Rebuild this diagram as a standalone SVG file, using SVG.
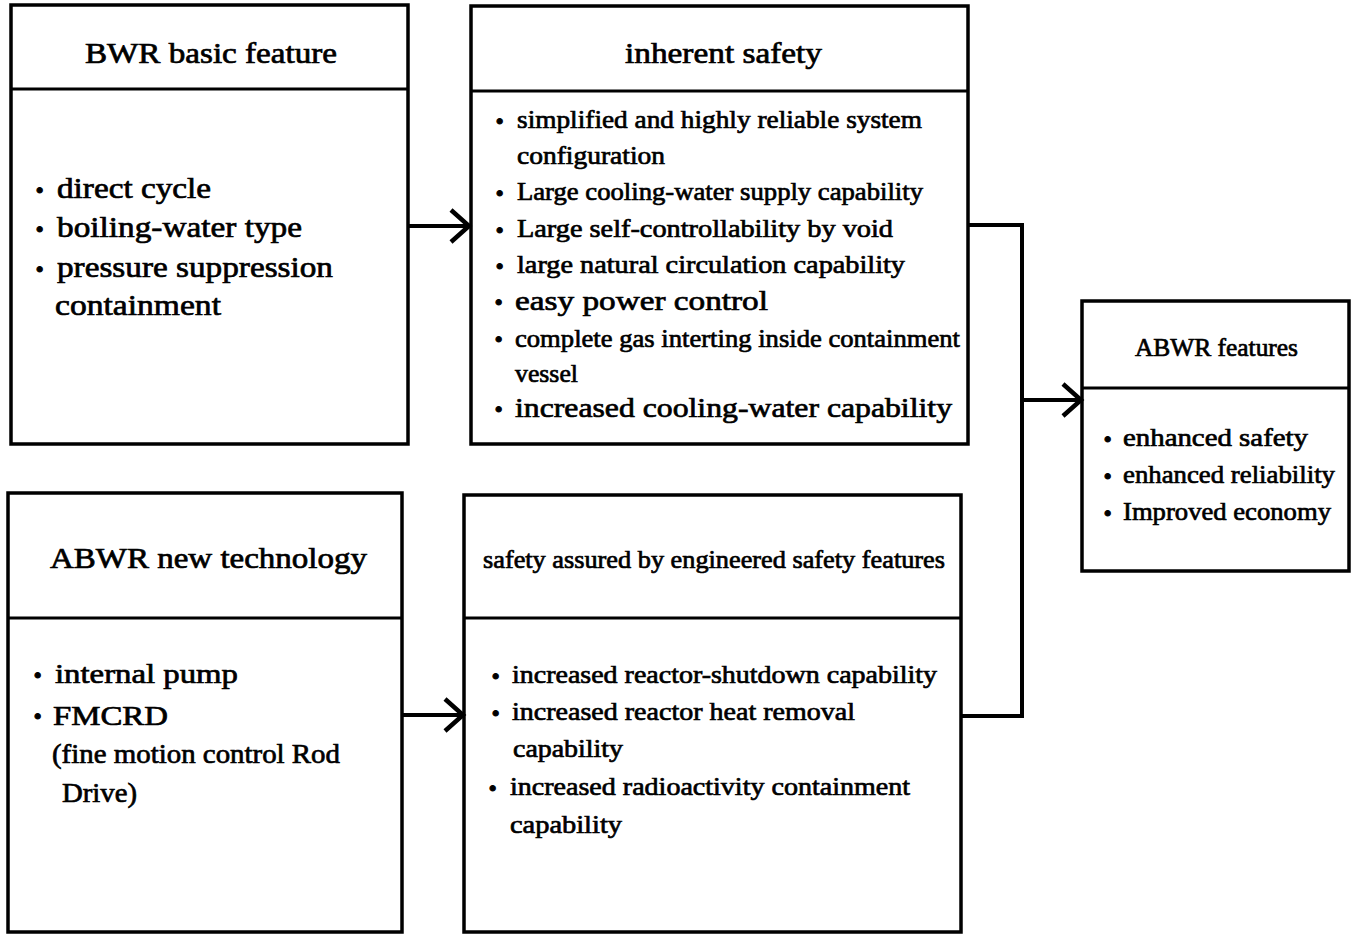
<svg xmlns="http://www.w3.org/2000/svg" width="1355" height="946" viewBox="0 0 1355 946">
<style>
.box{fill:#fff;stroke:#000;stroke-width:3.5}
.div{stroke:#000;stroke-width:3}
.t{font-family:"Liberation Serif","Times New Roman",serif;fill:#000;stroke:#000;stroke-width:0.7}
.b{font-family:"Liberation Serif","Times New Roman",serif;font-weight:bold;fill:#000;stroke:#000;stroke-width:1;font-size:34px}
.con{fill:none;stroke:#000;stroke-width:4}
</style>
<defs>
<marker id="chev" markerUnits="userSpaceOnUse" markerWidth="26" markerHeight="40" refX="22" refY="18" orient="auto">
<path d="M3,2 L21,18 L3,34" fill="none" stroke="#000" stroke-width="4.5"/>
</marker>
</defs>
<rect width="1355" height="946" fill="#fff"/>

<g id="bwr-basic">
<rect class="box" x="11" y="5" width="397" height="439"/>
<line class="div" x1="11" y1="89" x2="408" y2="89"/>
<text class="t" x="85" y="63" font-size="29" textLength="252" lengthAdjust="spacingAndGlyphs">BWR basic feature</text>
<text class="b" x="34" y="201">·</text>
<text class="t" x="57" y="198" font-size="30" textLength="154" lengthAdjust="spacingAndGlyphs">direct cycle</text>
<text class="b" x="34" y="240">·</text>
<text class="t" x="57" y="237" font-size="30" textLength="245" lengthAdjust="spacingAndGlyphs">boiling-water type</text>
<text class="b" x="34" y="280">·</text>
<text class="t" x="57" y="277" font-size="30" textLength="276" lengthAdjust="spacingAndGlyphs">pressure suppression</text>
<text class="t" x="55" y="315" font-size="30" textLength="166" lengthAdjust="spacingAndGlyphs">containment</text>
</g>

<g id="inherent-safety">
<rect class="box" x="471" y="6" width="497" height="438"/>
<line class="div" x1="471" y1="91" x2="968" y2="91"/>
<text class="t" x="625" y="63" font-size="29" textLength="197" lengthAdjust="spacingAndGlyphs">inherent safety</text>
<text class="b" x="494" y="132">·</text>
<text class="t" x="517" y="128" font-size="26" textLength="405" lengthAdjust="spacingAndGlyphs">simplified and highly reliable system</text>
<text class="t" x="517" y="164" font-size="26" textLength="148" lengthAdjust="spacingAndGlyphs">configuration</text>
<text class="b" x="494" y="204">·</text>
<text class="t" x="517" y="200" font-size="26" textLength="406" lengthAdjust="spacingAndGlyphs">Large cooling-water supply capability</text>
<text class="b" x="494" y="241">·</text>
<text class="t" x="517" y="237" font-size="26" textLength="376" lengthAdjust="spacingAndGlyphs">Large self-controllability by void</text>
<text class="b" x="494" y="277">·</text>
<text class="t" x="517" y="273" font-size="26" textLength="388" lengthAdjust="spacingAndGlyphs">large natural circulation capability</text>
<text class="b" x="493" y="313">·</text>
<text class="t" x="515" y="310" font-size="28" textLength="253" lengthAdjust="spacingAndGlyphs">easy power control</text>
<text class="b" x="493" y="350">·</text>
<text class="t" x="515" y="347" font-size="26" textLength="445" lengthAdjust="spacingAndGlyphs">complete gas interting inside containment</text>
<text class="t" x="515" y="382" font-size="26" textLength="63" lengthAdjust="spacingAndGlyphs">vessel</text>
<text class="b" x="493" y="420">·</text>
<text class="t" x="515" y="417" font-size="28" textLength="437" lengthAdjust="spacingAndGlyphs">increased cooling-water capability</text>
</g>

<g id="abwr-new-technology">
<rect class="box" x="8" y="493" width="394" height="439"/>
<line class="div" x1="8" y1="618" x2="402" y2="618"/>
<text class="t" x="50" y="568" font-size="29" textLength="317" lengthAdjust="spacingAndGlyphs">ABWR new technology</text>
<text class="b" x="32" y="686">·</text>
<text class="t" x="55" y="683" font-size="28" textLength="183" lengthAdjust="spacingAndGlyphs">internal pump</text>
<text class="b" x="32" y="727">·</text>
<text class="t" x="53" y="725" font-size="28" textLength="115" lengthAdjust="spacingAndGlyphs">FMCRD</text>
<text class="t" x="52" y="763" font-size="28" textLength="288" lengthAdjust="spacingAndGlyphs">(fine motion control Rod</text>
<text class="t" x="62" y="802" font-size="28" textLength="75" lengthAdjust="spacingAndGlyphs">Drive)</text>
</g>

<g id="engineered-safety">
<rect class="box" x="464" y="495" width="497" height="437"/>
<line class="div" x1="464" y1="618" x2="961" y2="618"/>
<text class="t" x="483" y="568" font-size="25" textLength="462" lengthAdjust="spacingAndGlyphs">safety assured by engineered safety features</text>
<text class="b" x="490" y="687">·</text>
<text class="t" x="512" y="683" font-size="26" textLength="425" lengthAdjust="spacingAndGlyphs">increased reactor-shutdown capability</text>
<text class="b" x="490" y="724">·</text>
<text class="t" x="512" y="720" font-size="26" textLength="343" lengthAdjust="spacingAndGlyphs">increased reactor heat removal</text>
<text class="t" x="513" y="757" font-size="26" textLength="110" lengthAdjust="spacingAndGlyphs">capability</text>
<text class="b" x="487" y="799">·</text>
<text class="t" x="510" y="795" font-size="26" textLength="400" lengthAdjust="spacingAndGlyphs">increased radioactivity containment</text>
<text class="t" x="510" y="833" font-size="26" textLength="112" lengthAdjust="spacingAndGlyphs">capability</text>
</g>

<g id="abwr-features">
<rect class="box" x="1082" y="301" width="267" height="270"/>
<line class="div" x1="1082" y1="388" x2="1349" y2="388"/>
<text class="t" x="1135" y="356" font-size="25" textLength="163" lengthAdjust="spacingAndGlyphs">ABWR features</text>
<text class="b" x="1102" y="450">·</text>
<text class="t" x="1123" y="446" font-size="26" textLength="185" lengthAdjust="spacingAndGlyphs">enhanced safety</text>
<text class="b" x="1102" y="487">·</text>
<text class="t" x="1123" y="483" font-size="26" textLength="212" lengthAdjust="spacingAndGlyphs">enhanced reliability</text>
<text class="b" x="1102" y="524">·</text>
<text class="t" x="1123" y="520" font-size="26" textLength="208" lengthAdjust="spacingAndGlyphs">Improved economy</text>
</g>

<g id="connectors">
<path class="con" d="M408,226 H470" marker-end="url(#chev)"/>
<path class="con" d="M402,715 H464" marker-end="url(#chev)"/>
<path class="con" d="M968,225 H1022 V716 H961"/>
<path class="con" d="M1022,400 H1082" marker-end="url(#chev)"/>
</g>
</svg>
